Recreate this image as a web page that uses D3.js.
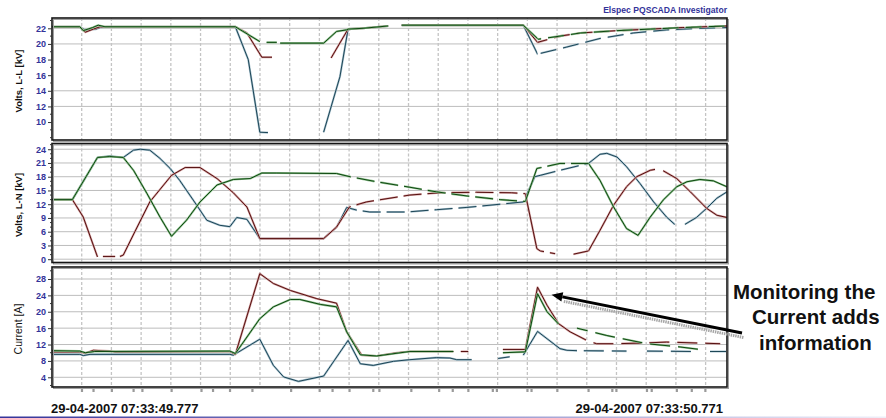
<!DOCTYPE html>
<html>
<head>
<meta charset="utf-8">
<script src="https://cdn.jsdelivr.net/npm/d3@7"></script>
<style>
  html, body { margin: 0; padding: 0; background: #fff; }
  svg { display: block; font-family: "Liberation Sans", Arial, sans-serif; }
</style>
</head>
<body>
<svg id="chart" width="886" height="418"></svg>
<script>
// ---- Recording window (ms from start) ----
const startLabel = "29-04-2007 07:33:49.777";
const endLabel = "29-04-2007 07:33:50.771";
const spanMs = 994;
const gridStepMs = 43.75;

// ---- Voltage L-L [kV]: [ms, kV], null = no samples ----
const llRed = [[0,22.2],[41,22.2],[49,21.5],[61,21.9],[71,22.2],[270,22.2],[287,21.4],[309,18.3],[324,18.3],null,
  [411,18.2],[436,21.9],[458,22.0],[495,22.3],null,[515,22.4],[694,22.4],[715,20.2],[748,21.0],[778,21.4],[832,21.7],[881,21.9],[929,22.1],[994,22.3]];
const llGreen = [[0,22.2],[41,22.2],[46,21.7],[60,22.1],[68,22.4],[78,22.2],[270,22.2],[306,20.3],null,[316,20.2],[331,20.2],null,
  [336,20.1],[400,20.1],[419,21.6],[434,21.8],[436,21.9],[458,22.0],[495,22.3],null,[515,22.4],[694,22.4],[716,20.6],[748,21.0],[778,21.4],[832,21.7],[881,21.9],[929,22.1],[994,22.3]];
const llBlue = [[0,22.2],[41,22.2],[48,21.8],[65,21.9],[71,22.1],[80,22.2],[270,22.2],[289,18.0],[306,8.7],[318,8.65],null,
  [400,8.7],[424,15.8],[436,21.9],[458,22.0],[495,22.3],null,[515,22.4],[694,22.4],[715,18.7],[758,19.6],[807,20.7],[856,21.4],[905,21.8],[954,22.0],[994,22.1]];
const llSparse = [[715, 994]];
const llTicks = [10, 12, 14, 16, 18, 20, 22];
const llGrid = [12, 14, 20, 22];

// ---- Voltage L-N [kV] ----
const lnRed = [[0,13],[30,13],[46,9.2],[67,0.5],null,[75,0.6],[93,0.6],null,[100,0.6],[105,0.9],[122,6],[144,12.5],[176,18.3],[196,20],
  [218,20],[243,17.6],[267,14.5],[287,11.4],[306,4.5],[400,4.5],[419,7.0],[438,11.4],[463,12.5],[527,14.0],[571,14.5],[625,14.6],[677,14.5],
  [697,14.3],[714,2.3],[719,1.8],[741,1.2],null,[768,1.1],[790,1.8],[807,6.3],[827,11.8],[846,15.8],[861,18.0],[881,19.4],[888,19.6],null,
  [900,19.3],[920,17.6],[940,14.7],[964,11.1],[979,9.6],[994,9.1]];
const lnGreen = [[0,13],[30,13],[67,22.2],[85,22.4],[105,22.2],[120,19.4],[140,14.3],[159,9.2],[176,5.0],[198,8.5],[218,12.5],[243,16.2],
  [267,17.4],[292,17.6],[309,18.8],[331,18.8],[419,18.7],[439,18.0],[478,16.9],[527,15.7],[566,14.7],[611,13.8],[660,13.0],[697,12.6],
  [714,19.8],[748,20.9],[790,20.9],[807,17.2],[827,11.4],[846,6.7],[863,5.2],[881,9.2],[900,12.9],[920,15.8],[935,16.9],[954,17.4],[974,17.1],[994,15.8]];
const lnBlue = [[0,13],[30,13],[67,22.2],[85,22.5],[105,22.2],[120,23.8],[130,24.0],[144,23.8],[159,22.0],[174,19.8],[188,17.2],[208,12.9],
  [228,8.5],[247,7.4],[262,7.1],[272,9.1],[287,8.7],[306,4.5],[400,4.5],[419,7.0],[434,11.3],[449,10.7],[468,10.3],[522,10.3],[566,10.8],
  [611,11.3],[660,12.0],[694,12.5],[711,18.0],[748,19.4],[790,20.9],[807,22.9],[817,23.1],[832,22.3],[846,20.2],[866,16.5],[886,12.5],
  [905,9.2],[917,7.6],null,[932,7.6],[949,9.1],[964,11.1],[979,13.3],[994,14.7]];
const lnSparse = [[439, 697], [720, 790]];
const lnTicks = [0, 3, 6, 9, 12, 15, 18, 21, 24];
const lnGrid = [0, 3, 6, 9, 12, 15, 18, 21, 24];

// ---- Current [A] ----
const curRed = [[0,10.2],[41,10.2],[49,9.9],[61,10.6],[85,10.4],[93,10.2],[262,10.3],[270,9.6],[306,29.3],[326,26.9],[351,25.2],[390,23.2],
  [419,22.1],[434,15.1],[456,9.4],[478,9.2],[508,10.0],[527,10.3],[591,10.3],null,[602,10.3],[613,10.3],null,[664,10.8],[697,10.8],
  [715,26.0],[729,21.6],[746,17.1],[763,15.1],[790,12.8],[802,12.2],[832,12.2],[876,12.4],[905,12.6],[984,12.2]];
const curGreen = [[0,10.5],[41,10.4],[49,10.0],[63,10.3],[262,10.4],[270,9.8],[306,18.3],[326,21.2],[351,23.0],[365,23.0],[395,21.8],
  [419,21.2],[434,15.1],[454,9.5],[478,9.2],[527,10.3],[591,10.3],null,[664,10.0],[697,10.2],[715,24.4],[729,20.0],[746,17.0],null,
  [773,16.0],[817,14.2],[876,12.2],[925,11.4],[954,10.8]];
const curBlue = [[0,9.6],[41,9.6],[46,9.3],[56,9.6],[262,9.6],[267,9.4],[306,13.3],[326,6.9],[341,4.1],[363,3.0],[400,4.3],[436,13.0],
  [454,7.3],[473,6.9],[503,7.9],[527,8.3],[566,8.8],[586,8.7],[596,8.3],[618,8.3],null,[657,8.6],[674,9.0],null,[694,9.4],[715,15.2],
  [748,11.0],[758,10.6],[773,10.5],[846,10.4],null,[876,10.4],[944,10.3],null,[969,10.3],[994,10.3]];
const curSparse = [[773, 994]];
const curTicks = [4, 8, 12, 16, 20, 24, 28];
const curGrid = [4, 8, 12, 16, 20, 24, 28];

// ---- Trigger / event marks along the time axis (ms) ----
const eventMarks = [44, 61, 88, 120, 133, 176, 220, 237, 262, 295, 352, 394, 413, 438, 473, 482, 529, 570, 590, 613,
  649, 655, 700, 706, 744, 790, 825, 831, 876, 883, 920, 942, 962];

// the second inrush event, which the callout refers to
const calloutWindow = [650, 800];
const annotationLines = ["Monitoring the", "Current adds", "information"];

// ---------------------------------------------------------------
const svg = d3.select("#chart");
const defs = svg.append("defs");
const W = 886;
const plotLeft = 52, plotRight = 727;

const x = d3.scaleLinear().domain([0, spanMs]).range([plotLeft, plotRight]);

const palette = {
  blue:  { core: "#1c4556", halo: "#a9c2ce" },
  red:   { core: "#561010", halo: "#d2a0a0" },
  green: { core: "#0d480f", halo: "#94c294" }
};
const dashOffset = { red: 0, green: 9, blue: 4 };

const panels = [
  { id: "ll", title: "Volts,  L-L [kV]", bold: true, top: 18, bottom: 140, domain: [7.7, 23.32],
    ticks: llTicks, minorStep: 1, grid: llGrid, sparse: llSparse, dash: "16,7",
    series: { blue: llBlue, red: llRed, green: llGreen } },
  { id: "ln", title: "Volts,  L-N [kV]", bold: true, top: 143.5, bottom: 262.5, domain: [-0.72, 25.25],
    ticks: lnTicks, minorStep: 1, grid: lnGrid, sparse: lnSparse, dash: "18,6",
    series: { blue: lnBlue, red: lnRed, green: lnGreen } },
  { id: "cur", title: "Current [A]", bold: false, top: 267, bottom: 387, domain: [1.63, 30.93],
    ticks: curTicks, minorStep: 2, grid: curGrid, sparse: curSparse, dash: "20,8",
    series: { blue: curBlue, red: curRed, green: curGreen } }
];

function complement(spans) {
  const out = []; let s = 0;
  spans.forEach(([a, b]) => { if (a > s) out.push([s, a]); s = b; });
  if (s < spanMs) out.push([s, spanMs]);
  return out;
}

const gridTimes = d3.range(gridStepMs, spanMs, gridStepMs);

panels.forEach(p => {
  const y = d3.scaleLinear().domain(p.domain).range([p.bottom, p.top]);
  p.y = y;
  const g = svg.append("g").attr("class", "panel-" + p.id);

  // clip regions: densely sampled spans and sparsely sampled spans
  const mkClip = (name, spans) => {
    const cp = defs.append("clipPath").attr("id", `clip-${p.id}-${name}`);
    spans.forEach(([a, b]) => cp.append("rect")
      .attr("x", x(a)).attr("y", p.top).attr("width", x(b) - x(a)).attr("height", p.bottom - p.top));
  };
  mkClip("dense", complement(p.sparse));
  mkClip("sparse", p.sparse);

  // horizontal grid
  g.append("g").selectAll("line").data(p.grid).join("line")
    .attr("x1", plotLeft).attr("x2", plotRight)
    .attr("y1", d => y(d)).attr("y2", d => y(d))
    .attr("stroke", "#bdbdbd").attr("stroke-width", 1);

  // vertical grid
  g.append("g").selectAll("line").data(gridTimes).join("line")
    .attr("x1", d => x(d)).attr("x2", d => x(d))
    .attr("y1", p.top).attr("y2", p.bottom)
    .attr("stroke", "#c4c4c4").attr("stroke-width", 1.3).attr("stroke-dasharray", "3,2");

  // phase traces
  const line = d3.line().defined(d => d != null).x(d => x(d[0])).y(d => y(d[1]));
  Object.entries(p.series).forEach(([name, data]) => {
    const col = palette[name];
    ["dense", "sparse"].forEach(mode => {
      const sg = g.append("g").attr("clip-path", `url(#clip-${p.id}-${mode})`);
      [["halo", 2.1], ["core", 1.0]].forEach(([layer, w]) => {
        const path = sg.append("path").datum(data)
          .attr("d", line).attr("fill", "none")
          .attr("stroke", col[layer]).attr("stroke-width", w)
          .attr("stroke-linejoin", "round");
        if (mode === "sparse") {
          path.attr("stroke-dasharray", p.dash).attr("stroke-dashoffset", dashOffset[name]);
        }
      });
    });
  });

  // frame
  g.append("rect").attr("x", plotLeft + 1.5).attr("y", p.top + 1.5)
    .attr("width", plotRight - plotLeft).attr("height", p.bottom - p.top)
    .attr("fill", "none").attr("stroke", "#a0a0a0").attr("stroke-width", 1);
  g.append("rect").attr("x", plotLeft).attr("y", p.top)
    .attr("width", plotRight - plotLeft).attr("height", p.bottom - p.top)
    .attr("fill", "none").attr("stroke", "#151515").attr("stroke-width", 1.6);

  // minor ticks
  const [d0, d1] = p.domain;
  const minors = d3.range(Math.ceil(d0), d1, p.minorStep).filter(v => !p.ticks.includes(v));
  g.append("g").selectAll("line").data(minors).join("line")
    .attr("x1", plotLeft - 2).attr("x2", plotLeft)
    .attr("y1", d => y(d)).attr("y2", d => y(d))
    .attr("stroke", "#333").attr("stroke-width", 1);

  // y axis
  const ax = g.append("g").attr("transform", `translate(${plotLeft},0)`)
    .call(d3.axisLeft(y).tickValues(p.ticks).tickSize(4).tickPadding(2).tickFormat(d3.format("d")));
  ax.select(".domain").remove();
  ax.selectAll(".tick line").attr("stroke", "#333");
  ax.selectAll(".tick text").attr("fill", "#33339a").attr("font-size", 9).attr("font-weight", "bold")
    .attr("font-family", "'Liberation Sans', Arial, sans-serif");

  // axis title
  g.append("text")
    .attr("transform", `translate(22,${(p.top + p.bottom) / 2 + 2}) rotate(-90)`)
    .attr("text-anchor", "middle")
    .attr("font-size", p.bold ? 9.5 : 10.5)
    .attr("font-weight", p.bold ? "bold" : "normal")
    .attr("fill", "#111")
    .text(p.title);
});

// event marks under the current panel
const lastPanel = panels[2];
svg.append("g").selectAll("rect").data(eventMarks).join("rect")
  .attr("x", d => x(d) - 1).attr("y", lastPanel.bottom + 2)
  .attr("width", 2.2).attr("height", 3)
  .attr("fill", "#9a9a9a");

// product title
svg.append("text").attr("x", 727).attr("y", 13.3).attr("text-anchor", "end")
  .attr("font-size", 8.6).attr("font-weight", "bold").attr("fill", "#33339a")
  .text("Elspec PQSCADA Investigator");

// time labels
svg.append("text").attr("x", 51).attr("y", 413).attr("font-size", 13).attr("font-weight", "bold")
  .attr("fill", "#111").text(startLabel);
svg.append("text").attr("x", 723).attr("y", 413).attr("text-anchor", "end").attr("font-size", 13)
  .attr("font-weight", "bold").attr("fill", "#111").text(endLabel);

// slide rule at the bottom
const grad = defs.append("linearGradient").attr("id", "rule").attr("x1", 0).attr("x2", 1).attr("y1", 0).attr("y2", 0);
grad.append("stop").attr("offset", 0).attr("stop-color", "#34349a");
grad.append("stop").attr("offset", 0.55).attr("stop-color", "#9a9ad0");
grad.append("stop").attr("offset", 1).attr("stop-color", "#eeeef8");
svg.append("rect").attr("x", 0).attr("y", 416.5).attr("width", W).attr("height", 1.5).attr("fill", "url(#rule)");

// annotation arrow pointing at the second current peak on the red phase
const peak = curRed.filter(d => d && d[0] >= calloutWindow[0] && d[0] <= calloutWindow[1])
  .reduce((a, b) => (b[1] > a[1] ? b : a));
const yc = lastPanel.y;
const tip = [x(peak[0]) + 14, yc(peak[1]) + 7.5];
const tail = [742, 333];
const len = Math.hypot(tail[0] - tip[0], tail[1] - tip[1]);
const u = [(tail[0] - tip[0]) / len, (tail[1] - tip[1]) / len];
const nrm = [-u[1], u[0]];
const base = [tip[0] + u[0] * 11, tip[1] + u[1] * 11];

svg.append("line")
  .attr("x1", base[0] + 1.5).attr("y1", base[1] + 4.5).attr("x2", tail[0] + 1.5).attr("y2", tail[1] + 4.5)
  .attr("stroke", "#a6a6a6").attr("stroke-width", 3).attr("stroke-dasharray", "1.5,0.8");
svg.append("line")
  .attr("x1", base[0]).attr("y1", base[1]).attr("x2", tail[0]).attr("y2", tail[1])
  .attr("stroke", "#000").attr("stroke-width", 3);
svg.append("path")
  .attr("d", `M${tip[0]},${tip[1]} L${base[0] + nrm[0] * 4.8},${base[1] + nrm[1] * 4.8} L${base[0] - nrm[0] * 4.8},${base[1] - nrm[1] * 4.8} Z`)
  .attr("fill", "#000");

// annotation text
const annX = [733, 752, 759];
svg.append("g").selectAll("text").data(annotationLines).join("text")
  .attr("x", (d, i) => annX[i]).attr("y", (d, i) => 298.5 + i * 25.8)
  .attr("font-size", 20.5).attr("font-weight", "bold").attr("fill", "#111")
  .text(d => d);
</script>
</body>
</html>
